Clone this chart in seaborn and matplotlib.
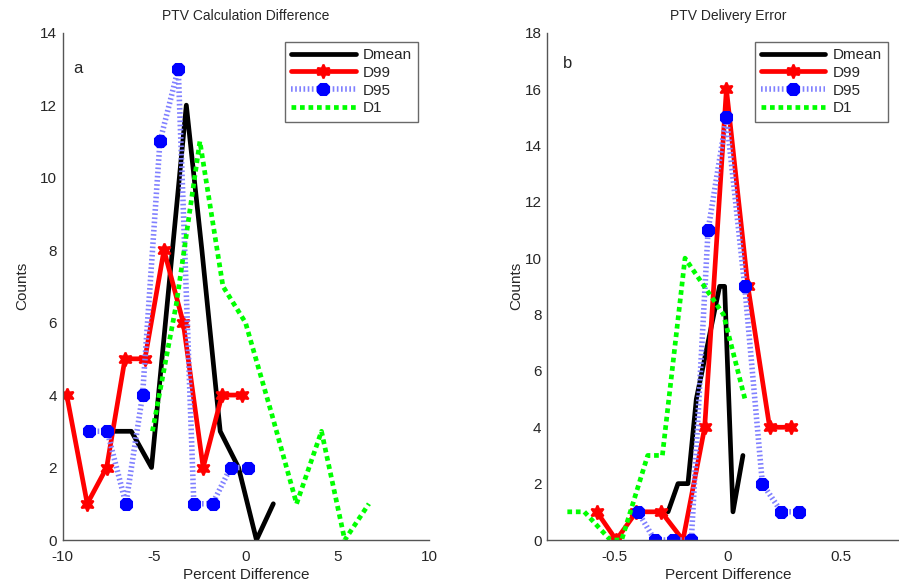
import matplotlib
matplotlib.use("Agg")
import matplotlib.pyplot as plt
import seaborn as sns
import pandas as pd

# ---- Panel a: PTV Calculation Difference ----
a_dmean_x = [-7.4, -6.25, -5.15, -4.2, -3.25, -2.4, -1.4, -0.4, 0.58, 1.5]
a_dmean_y = [3, 3, 2, 7, 12, 8, 3, 2, 0, 1]
a_d99_x = [-9.78, -8.66, -7.6, -6.6, -5.51, -4.47, -3.42, -2.33, -1.3, -0.2]
a_d99_y = [4, 1, 2, 5, 5, 8, 6, 2, 4, 4]
a_d95_x = [-8.55, -7.57, -6.55, -5.64, -4.69, -3.69, -2.84, -1.82, -0.83, 0.13]
a_d95_y = [3, 3, 1, 4, 11, 13, 1, 1, 2, 2]
a_d1_x = [-5.1, -3.8, -2.51, -1.25, -0.02, 1.4, 2.77, 4.13, 5.4, 6.72]
a_d1_y = [3, 6.5, 11, 7, 6, 3.5, 1, 3, 0, 1]

# ---- Panel b: PTV Delivery Error ----
b_dmean_x = [-0.265, -0.221, -0.177, -0.14, -0.037, -0.015, 0.022, 0.066]
b_dmean_y = [1, 2, 2, 5, 9, 9, 1, 3]
b_d99_x = [-0.58, -0.494, -0.405, -0.295, -0.199, -0.103, -0.007, 0.088, 0.184, 0.28]
b_d99_y = [1, 0, 1, 1, 0, 4, 16, 9, 4, 4]
b_d95_x = [-0.398, -0.324, -0.243, -0.162, -0.088, -0.007, 0.074, 0.152, 0.236, 0.314]
b_d95_y = [1, 0, 0, 0, 11, 15, 9, 2, 1, 1]
b_d1_x = [-0.71, -0.635, -0.52, -0.47, -0.355, -0.29, -0.19, -0.02, 0.075]
b_d1_y = [1, 1, 0, 0, 3, 3, 10, 8, 5]

series_names = ["Dmean", "D99", "D95", "D1"]
titles = ["PTV Calculation Difference", "PTV Delivery Error"]
panel_labels = ["a", "b"]
a_xticks = [-10, -5, 0, 5, 10]
a_yticks = [0, 2, 4, 6, 8, 10, 12, 14]
b_xticks = [-0.5, 0, 0.5]
b_xticklabels = ["-0.5", "0", "0.5"]
b_yticks = [0, 2, 4, 6, 8, 10, 12, 14, 16, 18]

sns.set_style("white")
plt.rcParams["font.family"] = ["Liberation Sans", "DejaVu Sans"]
plt.rcParams["axes.unicode_minus"] = False

fig = plt.figure(figsize=(8.99, 5.88), dpi=100)
W, H = 899, 588
def axes_px(x0, y0, x1, y1):
    return fig.add_axes([x0 / W, 1 - y1 / H, (x1 - x0) / W, (y1 - y0) / H])

axA = axes_px(62.7, 32.7, 429.0, 540.0)
axB = axes_px(547.0, 32.7, 909.0, 540.0)

styles = {
    "Dmean": dict(color="black", linewidth=3.4, linestyle="-", marker=None),
    "D99": dict(color="red", linewidth=3.4, linestyle="-", marker=(6, 1, 0),
                markersize=10, markeredgewidth=1.5, markerfacecolor="red",
                markeredgecolor="red"),
    "D95": dict(color=(0.5, 0.5, 1.0), linewidth=4.0, linestyle=(0, (0.3, 0.45)),
                marker="8", markersize=9.5, markerfacecolor="blue", markeredgecolor="blue"),
    "D1": dict(color=(0.0, 1.0, 0.0), linewidth=3.4, linestyle=(0, (1, 0.8)), marker=None),
}

def draw(ax, data):
    for name, (xs, ys) in zip(series_names, data):
        df = pd.DataFrame({"x": xs, "y": ys})
        st = dict(styles[name])
        sns.lineplot(data=df, x="x", y="y", ax=ax, estimator=None, sort=False,
                     label=name, dash_capstyle="butt", **st)

draw(axA, [(a_dmean_x, a_dmean_y), (a_d99_x, a_d99_y), (a_d95_x, a_d95_y), (a_d1_x, a_d1_y)])
draw(axB, [(b_dmean_x, b_dmean_y), (b_d99_x, b_d99_y), (b_d95_x, b_d95_y), (b_d1_x, b_d1_y)])

axA.set_xlim(-10, 10)
axA.set_ylim(0, 14)
axA.set_xticks(a_xticks)
axA.set_yticks(a_yticks)
axB.set_xlim(-0.8, 0.8)
axB.set_ylim(0, 18)
axB.set_xticks(b_xticks)
axB.set_xticklabels(b_xticklabels)
axB.set_yticks(b_yticks)

for ax, title, lab, loc, anchor, lp in [
        (axA, titles[0], panel_labels[0], "upper right", (0.971, 0.982), 8),
        (axB, titles[1], panel_labels[1], "upper left", (0.575, 0.982), 1)]:
    ax.set_title(title, fontsize=10, pad=9)
    ax.set_xlabel("Percent Difference", fontsize=11, labelpad=3)
    ax.set_ylabel("Counts", fontsize=11, labelpad=lp)
    for s in ["top", "right"]:
        ax.spines[s].set_visible(False)
    for s in ["left", "bottom"]:
        ax.spines[s].set_color("#555555")
        ax.spines[s].set_linewidth(1.0)
    ax.tick_params(direction="in", length=4, width=1, color="#555555",
                   labelsize=11)
    ax.tick_params(axis="x", pad=7)
    ax.tick_params(axis="y", pad=4)
    ax.text(0.03 if lab == "a" else 0.045, 0.93 if lab == "a" else 0.94, lab,
            transform=ax.transAxes, fontsize=12, ha="left", va="center")
    leg = ax.legend(loc=loc, bbox_to_anchor=anchor, fontsize=11, frameon=True,
                    fancybox=False, handlelength=4.2, labelspacing=0.25,
                    borderpad=0.4, handletextpad=0.5, borderaxespad=0)
    leg.get_frame().set_edgecolor("#444444")
    leg.get_frame().set_linewidth(1.0)

fig.savefig("out.png", dpi=100)
